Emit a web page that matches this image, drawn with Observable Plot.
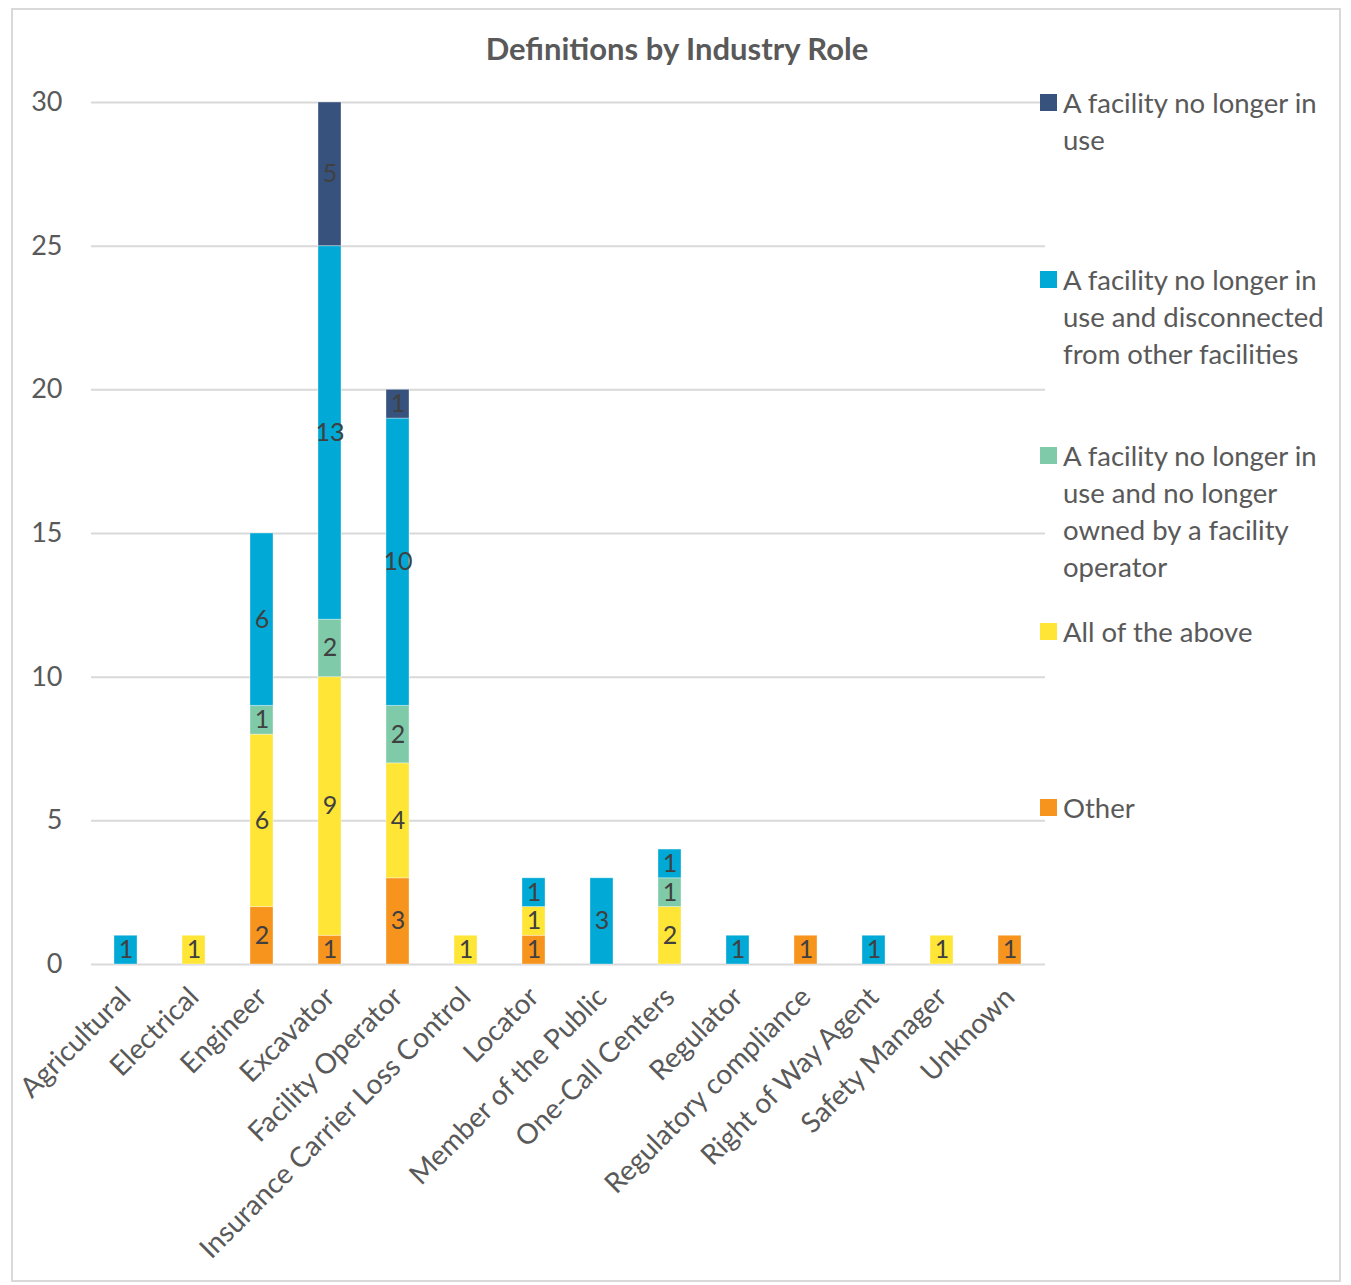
<!DOCTYPE html>
<html>
<head>
<meta charset="utf-8">
<script src="https://cdn.jsdelivr.net/npm/d3@7"></script>
<script src="https://cdn.jsdelivr.net/npm/@observablehq/plot@0.6"></script>
<style>
  html, body { margin: 0; padding: 0; background: #fff; }
  #wrap { position: relative; width: 1351px; height: 1285px; overflow: hidden; font-family: "Source Sans Pro", Lato, "Noto Sans", sans-serif; }
  #frame { position: absolute; left: 11px; top: 8px; width: 1330px; height: 1274px; border: 2px solid #d9d9d9; box-sizing: border-box; }
  #title { position: absolute; left: 0; width: 1354px; top: 29px; text-align: center; font-size: 31px; font-weight: bold; color: #595959; }
  #chart { position: absolute; left: 0; top: 0; }
  .leg { position: absolute; left: 1040px; width: 305px; font-size: 27.5px; line-height: 37px; color: #595959; }
  .leg .sw { position: absolute; left: 0; top: 10px; width: 17px; height: 17px; }
  .leg .tx { position: absolute; left: 23px; top: 0; width: 282px; }
</style>
</head>
<body>
<div id="wrap">
  <div id="frame"></div>
  <div id="chart"></div>
  <div id="title">Definitions by Industry Role</div>
  <div id="legend"></div>
</div>
<script>
const categories = ["Agricultural", "Electrical", "Engineer", "Excavator", "Facility Operator", "Insurance Carrier Loss Control", "Locator", "Member of the Public", "One-Call Centers", "Regulator", "Regulatory compliance", "Right of Way Agent", "Safety Manager", "Unknown"];
// stacking order: bottom to top
const seriesNames = ["Other", "All of the above", "A facility no longer in use and no longer owned by a facility operator", "A facility no longer in use and disconnected from other facilities", "A facility no longer in use"];
const seriesColors = ["#F7941E", "#FFE536", "#7FCBA9", "#00A9D6", "#36527D"];
const other        = [0, 0, 2, 1, 3, 0, 1, 0, 0, 0, 1, 0, 0, 1];
const allAbove     = [0, 1, 6, 9, 4, 1, 1, 0, 2, 0, 0, 0, 1, 0];
const notOwned     = [0, 0, 1, 2, 2, 0, 0, 0, 1, 0, 0, 0, 0, 0];
const disconnected = [1, 0, 6, 13, 10, 0, 1, 3, 1, 1, 0, 1, 0, 0];
const noLongerUse  = [0, 0, 0, 5, 1, 0, 0, 0, 0, 0, 0, 0, 0, 0];
const yTicks = [0, 5, 10, 15, 20, 25, 30];
const legendOrder = [4, 3, 2, 1, 0];
const legendTops = [84, 261, 437, 613, 789];

const seriesValues = [other, allAbove, notOwned, disconnected, noLongerUse];
const rows = [];
categories.forEach((c, i) => {
  seriesValues.forEach((vals, s) => {
    if (vals[i] > 0) rows.push({cat: c, series: seriesNames[s], value: vals[i]});
  });
});

const chart = Plot.plot({
  width: 1351,
  height: 1285,
  marginTop: 102,
  marginBottom: 321,
  marginLeft: 91,
  marginRight: 306,
  style: {fontFamily: '"Source Sans Pro", Lato, "Noto Sans", sans-serif', background: "transparent"},
  x: {domain: categories, paddingInner: 0.66, paddingOuter: 0.33, label: null, tickSize: 0, tickRotate: -45, tickPadding: 28},
  y: {domain: [0, 30], ticks: yTicks, label: null, tickSize: 0, tickPadding: 29},
  color: {domain: seriesNames, range: seriesColors},
  marks: [
    Plot.gridY(yTicks, {stroke: "#d9d9d9", strokeOpacity: 1, strokeWidth: 2}),
    Plot.axisY(yTicks, {tickSize: 0, tickPadding: 29, fontSize: 27, fill: "#595959", label: null}),
    Plot.axisX({tickSize: 0, tickRotate: -45, tickPadding: 28, fontSize: 28, fill: "#595959", label: null}),
    Plot.barY(rows, {x: "cat", y: "value", fill: "series", stroke: "#ffffff", strokeOpacity: 0.35, strokeWidth: 1}),
    Plot.text(rows, Plot.stackY({x: "cat", y: "value", z: "series", text: d => String(d.value), fill: "#404040", fontSize: 25}))
  ]
});
document.getElementById("chart").appendChild(chart);

const leg = document.getElementById("legend");
legendOrder.forEach((s, k) => {
  const item = document.createElement("div");
  item.className = "leg";
  item.style.top = legendTops[k] + "px";
  item.innerHTML = `<div class="sw" style="background:${seriesColors[s]}"></div><div class="tx">${seriesNames[s]}</div>`;
  leg.appendChild(item);
});
</script>
</body>
</html>
